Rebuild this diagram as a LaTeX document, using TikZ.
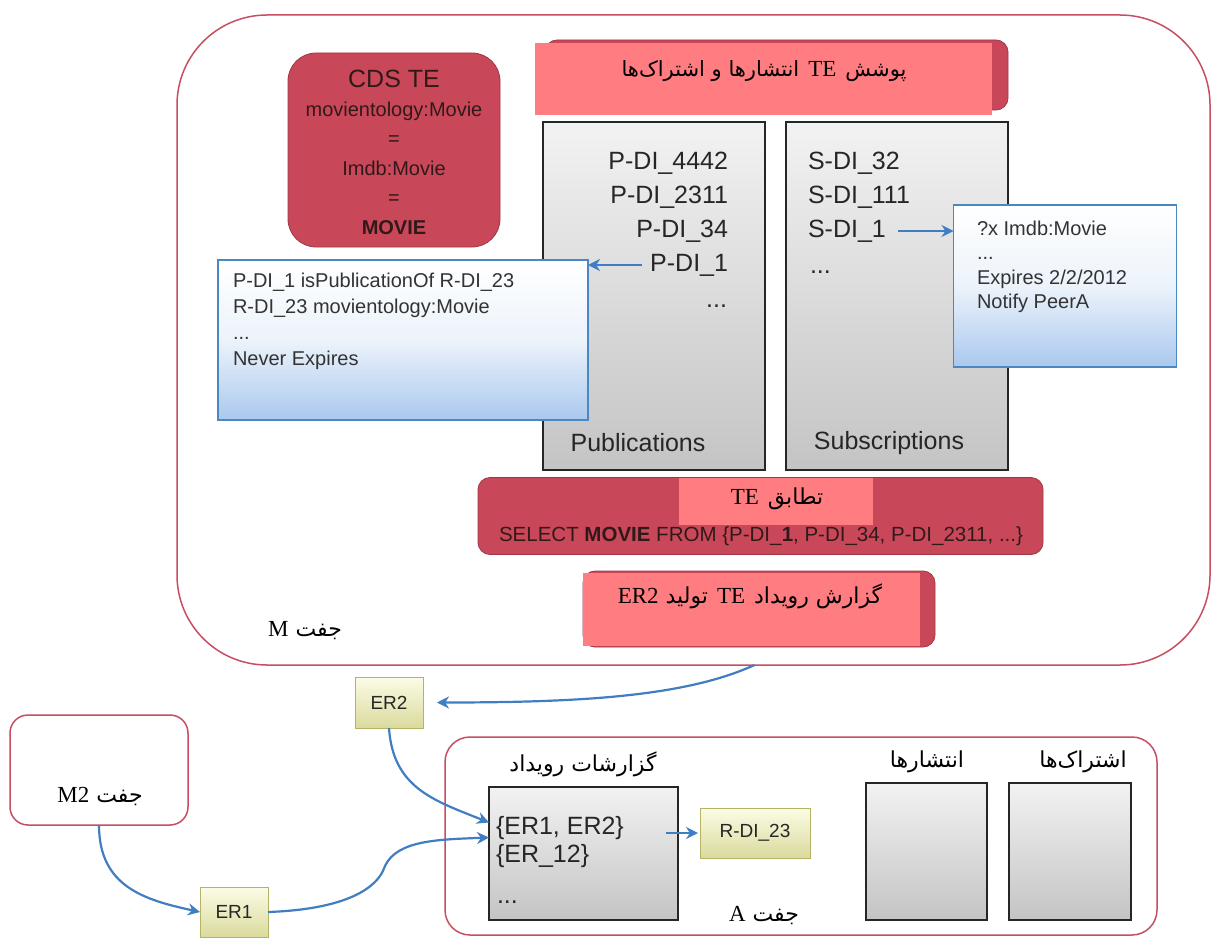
\documentclass[tikz,border=0pt]{standalone}
\usepackage{fontspec}
\setmainfont{Liberation Sans}
\newfontfamily\farsifont[Script=Arabic]{DejaVu Sans}
\newfontfamily\latserif{Liberation Serif}
\TeXXeTstate=1
\usetikzlibrary{arrows.meta}
\newcommand\latpart[1]{{\latserif\fontsize{23}{24}\selectfont #1}}
\newcommand\wsp{\hspace{9pt}}
\definecolor{peerred}{RGB}{200,78,98}
\definecolor{pinkbox}{RGB}{255,124,128}
\definecolor{darkrose}{RGB}{200,72,90}
\definecolor{roseedge}{RGB}{160,55,70}
\definecolor{cdstext}{RGB}{50,25,25}
\definecolor{arrowblue}{RGB}{65,125,195}
\definecolor{blueedge}{RGB}{75,135,195}
\definecolor{bluefill}{RGB}{170,200,238}
\definecolor{bluemid}{RGB}{236,243,251}
\definecolor{yedge}{RGB}{180,180,100}
\definecolor{ytop}{RGB}{252,252,230}
\definecolor{ybot}{RGB}{218,218,158}
\definecolor{graytop}{RGB}{242,242,242}
\definecolor{graybot}{RGB}{196,196,196}
\begin{document}
\begin{tikzpicture}[x=1pt,y=-1pt,
  every node/.style={inner sep=0pt, outer sep=0pt},
  peer/.style={draw=peerred, line width=1.5pt, rounded corners=#1},
  rosebox/.style={fill=darkrose, draw=roseedge, line width=0.8pt, rounded corners=12pt},
  pinkrect/.style={fill=pinkbox},
  listbox/.style={draw=black!85, line width=1.2pt, top color=graytop, bottom color=graybot},
  bluebox/.style={draw=blueedge, line width=1.2pt, top color=white, bottom color=bluefill, middle color=bluemid},
  erbox/.style={draw=yedge, line width=1pt, top color=ytop, bottom color=ybot, text=black!85, font=\fontsize{19}{22}\selectfont},
  conn/.style={draw=arrowblue, line width=2.2pt, -{Stealth[length=12pt,width=12pt]}},
  fatext/.style={font=\farsifont\fontsize{22}{26}\selectfont, text=black},
  bigtxt/.style={font=\fontsize{25}{30}\selectfont, text=black!85},
  bluetxt/.style={font=\fontsize{20}{26}\selectfont, text=black!80, align=left}
]
\useasboundingbox (0,0) rectangle (1213,942);
\fill[white] (0,0) rectangle (1213,942);

% ---------- peer M ----------
\node[peer=90pt, minimum width=1033pt, minimum height=650pt] (peerM) at (693.5,340) {};

% cover box
\node[rosebox, minimum width=463pt, minimum height=70pt] (coverBack) at (776.5,75) {};
\node[pinkrect, minimum width=457pt, minimum height=72pt] (cover) at (763.5,79) {};
\node[fatext, font=\farsifont\fontsize{21}{26}\selectfont] (coverText) at (764,71) {\beginR پوشش\wsp\latpart{TE}\wsp انتشارها و اشتراک^^^^200cها\endR};

% CDS TE
\node[rosebox, rounded corners=28pt, minimum width=212pt, minimum height=194pt] (cds) at (394,150) {};
\node[font=\fontsize{25}{30}\selectfont, text=cdstext] (cdsTitle) at (394,79) {CDS TE};
\node[font=\fontsize{20}{29.5}\selectfont, text=cdstext, align=center] (cdsBody) at (394,168)
  {movientology:Movie\\=\\Imdb:Movie\\=\\\textbf{MOVIE}};

% publications / subscriptions
\node[listbox, minimum width=222pt, minimum height=348pt] (pubM) at (654,296) {};
\node[listbox, minimum width=222pt, minimum height=348pt] (subM) at (897,296) {};
\node[bigtxt, anchor=east] (p4442) at (728,163) {P-DI\_4442};
\node[bigtxt, anchor=east] (p2311) at (728,197) {P-DI\_2311};
\node[bigtxt, anchor=east] (p34) at (728,231) {P-DI\_34};
\node[bigtxt, anchor=east] (pdi1) at (728,265) {P-DI\_1};
\node[bigtxt, anchor=east] (pdots) at (727,306) {...};
\node[bigtxt, anchor=west] (s32) at (808,163) {S-DI\_32};
\node[bigtxt, anchor=west] (s111) at (808,197) {S-DI\_111};
\node[bigtxt, anchor=west] (sdi1) at (808,231) {S-DI\_1};
\node[bigtxt, anchor=west] (sdots) at (810,272) {...};
\node[bigtxt] (pubLabel) at (638,443) {Publications};
\node[bigtxt] (subLabel) at (889,443) {Subscriptions};

% blue detail boxes
\node[bluebox, minimum width=370pt, minimum height=160pt] (leftBlue) at (403,340) {};
\node[bluetxt, anchor=north west] (leftText) at (233,273)
  {P-DI\_1 isPublicationOf R-DI\_23\\R-DI\_23 movientology:Movie\\...\\Never Expires};
\node[bluebox, minimum width=223pt, minimum height=162pt] (rightBlue) at (1065,286) {};
\node[bluetxt, font=\fontsize{20}{24.5}\selectfont, anchor=north west] (rightText) at (977,221)
  {?x Imdb:Movie\\...\\Expires 2/2/2012\\Notify PeerA};
\draw[conn] ([xshift=-8pt]pdi1.west) -- (leftBlue.east |- pdi1.west);
\draw[conn] ([xshift=12pt]sdi1.east) -- (rightBlue.west |- sdi1.east);

% matching
\node[rosebox, minimum width=565pt, minimum height=77pt] (matchBack) at (760.5,516) {};
\node[pinkrect, minimum width=194pt, minimum height=47pt] (matchPink) at (776,501) {};
\node[fatext] (matchText) at (777,499) {\beginR تطابق\wsp\latpart{TE}\endR};
\node[font=\fontsize{20.5}{24}\selectfont, text=cdstext] (selectText) at (761,536)
  {SELECT \textbf{MOVIE} FROM \{P-DI\_\textbf{1}, P-DI\_34, P-DI\_2311, ...\}};

% generation
\node[rosebox, minimum width=352pt, minimum height=76pt] (genBack) at (759,609) {};
\node[pinkrect, minimum width=337pt, minimum height=73pt] (genPink) at (751.5,609.5) {};
\node[fatext] (genText) at (750,596) {\beginR گزارش رویداد\wsp\latpart{TE}\wsp تولید \latpart{ER2}\endR};

\node[fatext] (peerMLabel) at (305,631) {\beginR جفت \latpart{M}\endR};

% ---------- ER boxes and peer M2 ----------
\node[erbox, minimum width=68pt, minimum height=51pt] (er2) at (389,702.5) {ER2};
\node[peer=18pt, minimum width=178pt, minimum height=110pt] (peerM2) at (99,770) {};
\node[fatext] (peerM2Label) at (100,796) {\beginR جفت \latpart{M2}\endR};
\node[erbox, minimum width=68pt, minimum height=50pt] (er1) at (234,912) {ER1};

% ---------- peer A ----------
\node[peer=25pt, minimum width=712pt, minimum height=198pt] (peerA) at (801,836) {};
\node[listbox, minimum width=189pt, minimum height=133pt] (evBox) at (583.5,853.5) {};
\node[fatext] (evLabel) at (583,764) {\beginR گزارشات رویداد\endR};
\node[bigtxt, anchor=west] (ev1) at (496,828) {\{ER1, ER2\}};
\node[bigtxt, anchor=west] (ev2) at (496,856) {\{ER\_12\}};
\node[bigtxt, anchor=west] (ev3) at (497,902) {...};
\node[erbox, minimum width=110pt, minimum height=50pt] (rdi) at (755,833) {R-DI\_23};
\node[listbox, minimum width=121pt, minimum height=137pt] (pubA) at (926.5,851.5) {};
\node[listbox, minimum width=122pt, minimum height=137pt] (subA) at (1070,851.5) {};
\node[fatext] (pubALabel) at (927,762) {\beginR انتشارها\endR};
\node[fatext] (subALabel) at (1083,762) {\beginR اشتراک^^^^200cها\endR};
\node[fatext] (peerALabel) at (764,916) {\beginR جفت \latpart{A}\endR};

% ---------- connectors ----------
\draw[conn] ([xshift=61pt]peerM.south) .. controls +(-70,32) and +(140,0) .. ([xshift=14pt]er2.east);
\draw[conn] (er2.south) .. controls +(4,60) and +(-55,-22) .. ([yshift=31pt]evBox.west);
\coordinate (er1mid) at (385,866);
\draw[conn] (er1.east) .. controls +(60,-2) and +(-10,30) .. (er1mid)
  .. controls +(12,-26) and +(-50,2) .. ([yshift=16pt]evBox.west);
\draw[conn] (peerM2.south) .. controls +(0,62) and +(-55,-12) .. (er1.west);
\draw[conn] ([xshift=-12pt]evBox.east |- rdi.west) -- ([xshift=-2pt]rdi.west);
\end{tikzpicture}
\end{document}
